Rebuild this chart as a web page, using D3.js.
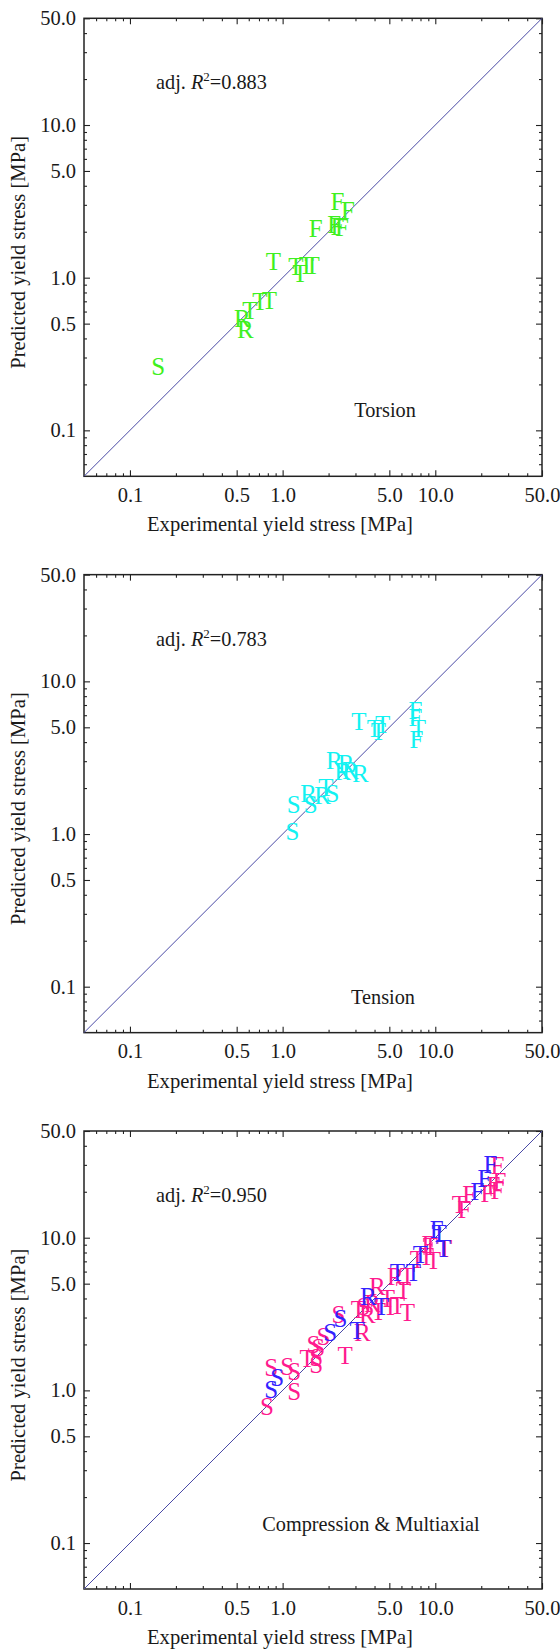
<!DOCTYPE html>
<html><head><meta charset="utf-8">
<script src="https://cdn.jsdelivr.net/npm/d3@7"></script>
<style>
html,body{margin:0;padding:0;background:#fff;}
svg text{font-family:"Liberation Serif","Times New Roman",serif;fill:#1a1a1a;}
</style></head><body>
<svg id="chart" width="560" height="1649"></svg>
<script>
// Axis setup shared by the three log-log panels
const axisDomain = [0.05, 50];
const majorTicks = [0.1, 0.5, 1, 5, 10, 50];
const majorTickLabels = ["0.1", "0.5", "1.0", "5.0", "10.0", "50.0"];
const minorTicks = [0.06, 0.07, 0.08, 0.09, 0.2, 0.3, 0.4, 0.6, 0.7, 0.8, 0.9,
                    2, 3, 4, 6, 7, 8, 9, 20, 30, 40];
const panelTitles = ["Torsion", "Tension", "Compression & Multiaxial"];
const adjR2Values = ["0.883", "0.783", "0.950"];
const xTitle = "Experimental yield stress [MPa]";
const yTitle = "Predicted yield stress [MPa]";

// [specimen letter, experimental yield stress, predicted yield stress] in MPa
const torsionGreen = [
  ["F", 2.29, 3.16], ["F", 2.68, 2.74], ["F", 1.65, 2.11], ["F", 2.18, 2.22],
  ["F", 2.29, 2.18], ["F", 2.45, 2.12],
  ["T", 0.87, 1.28], ["T", 1.22, 1.19], ["T", 1.30, 1.07], ["T", 1.43, 1.21],
  ["T", 1.56, 1.21], ["T", 0.71, 0.70], ["T", 0.82, 0.71], ["T", 0.61, 0.61],
  ["R", 0.545, 0.543], ["R", 0.57, 0.46],
  ["S", 0.153, 0.262]
];
const tensionCyan = [
  ["T", 3.16, 5.44], ["T", 3.99, 4.92], ["T", 4.52, 5.25], ["T", 4.24, 4.72],
  ["F", 7.41, 6.42], ["F", 7.41, 5.81], ["T", 7.75, 4.92], ["F", 7.52, 4.19],
  ["R", 2.18, 3.02], ["R", 2.60, 2.90], ["R", 2.47, 2.56], ["R", 2.78, 2.62],
  ["R", 3.23, 2.50], ["T", 1.92, 2.02], ["S", 2.12, 1.85], ["R", 1.48, 1.85],
  ["R", 1.83, 1.78], ["S", 1.53, 1.57], ["S", 1.18, 1.55], ["S", 1.16, 1.04]
];
const compressionPink = [
  ["F", 25.5, 29.5], ["F", 24.0, 22.1], ["F", 26.3, 23.5], ["F", 25.5, 20.5],
  ["F", 16.7, 19.05], ["F", 22.0, 19.6], ["T", 14.4, 16.6], ["F", 15.5, 15.2],
  ["F", 9.01, 8.96], ["T", 9.29, 8.70], ["T", 11.5, 8.56],
  ["T", 7.63, 7.25], ["T", 8.74, 7.48], ["T", 9.72, 7.14],
  ["R", 5.47, 5.53], ["T", 6.56, 5.53], ["T", 6.18, 4.54], ["R", 4.17, 4.76],
  ["T", 4.85, 3.97], ["T", 5.08, 3.57], ["T", 5.64, 3.62], ["T", 6.56, 3.26],
  ["R", 3.87, 3.68], ["S", 3.38, 3.52], ["T", 3.13, 3.41], ["R", 3.59, 3.12],
  ["T", 4.24, 3.31], ["R", 3.33, 2.41], ["S", 2.32, 3.16],
  ["S", 1.85, 2.24], ["S", 1.59, 2.01], ["S", 1.71, 1.92], ["S", 1.66, 1.65],
  ["T", 1.45, 1.61], ["S", 1.66, 1.47], ["T", 2.57, 1.70],
  ["S", 0.842, 1.42], ["S", 1.07, 1.44], ["S", 1.19, 1.32], ["S", 1.19, 0.99],
  ["S", 0.79, 0.79]
];
const multiaxialBlue = [
  ["F", 23.0, 30.0], ["F", 21.0, 24.4], ["F", 18.9, 20.2], ["F", 10.2, 11.4],
  ["T", 10.6, 10.7], ["T", 11.3, 8.56], ["T", 7.99, 7.82], ["T", 5.64, 5.96],
  ["T", 7.18, 5.96], ["R", 3.64, 4.15], ["T", 4.43, 3.52], ["T", 3.08, 2.45],
  ["S", 2.39, 2.94], ["S", 2.05, 2.41], ["S", 0.922, 1.22], ["S", 0.842, 1.02]
];

const colors = { green: "#3ef020", cyan: "#12f2f2", pink: "#ff1a8e", blue: "#3322ff" };

const panels = [
  { title: panelTitles[0], r2: adjR2Values[0], series: [{ data: torsionGreen, color: colors.green }],
    labelX: 301, labelY: 399 },
  { title: panelTitles[1], r2: adjR2Values[1], series: [{ data: tensionCyan, color: colors.cyan }],
    labelX: 299, labelY: 429 },
  { title: panelTitles[2], r2: adjR2Values[2],
    series: [{ data: compressionPink, color: colors.pink }, { data: multiaxialBlue, color: colors.blue }],
    labelX: 287, labelY: 400 }
];

const svg = d3.select("#chart");
svg.append("rect").attr("width", 560).attr("height", 1649).attr("fill", "#fff");

const W = 458, H = 458, left = 84, firstTop = 18.3, step = 556.35;
const x = d3.scaleLog().domain(axisDomain).range([0, W]);
const y = d3.scaleLog().domain(axisDomain).range([H, 0]);
const fmt = d => majorTickLabels[majorTicks.indexOf(d)];

panels.forEach((p, i) => {
  const g = svg.append("g").attr("transform", `translate(${left},${firstTop + i * step})`);

  // minor and major ticks on all four sides, pointing inward
  const addAxis = (gen, tr, vals, size, labels, pad) => {
    const a = g.append("g").attr("transform", tr)
      .call(gen.tickValues(vals).tickSizeInner(-size).tickSizeOuter(0)
        .tickPadding(pad).tickFormat(labels ? fmt : () => ""));
    a.select(".domain").remove();
    a.selectAll("line").attr("stroke", "#222").attr("stroke-width", 1.1);
    a.selectAll("text").attr("font-size", 20.5).attr("fill", "#1a1a1a")
      .attr("font-family", '"Liberation Serif","Times New Roman",serif');
    return a;
  };
  addAxis(d3.axisBottom(x), `translate(0,${H})`, minorTicks, 3, false, 0);
  addAxis(d3.axisTop(x), `translate(0,0)`, minorTicks, 3, false, 0);
  addAxis(d3.axisLeft(y), `translate(0,0)`, minorTicks, 3, false, 0);
  addAxis(d3.axisRight(y), `translate(${W},0)`, minorTicks, 3, false, 0);
  addAxis(d3.axisBottom(x), `translate(0,${H})`, majorTicks, 6, true, 11);
  addAxis(d3.axisTop(x), `translate(0,0)`, majorTicks, 6, false, 0);
  addAxis(d3.axisLeft(y), `translate(0,0)`, majorTicks, 6, true, 8);
  addAxis(d3.axisRight(y), `translate(${W},0)`, majorTicks, 6, false, 0);

  // plot frame
  g.append("rect").attr("width", W).attr("height", H)
    .attr("fill", "none").attr("stroke", "#222").attr("stroke-width", 1.5);

  // 1:1 reference line
  g.append("line")
    .attr("x1", x(axisDomain[0])).attr("y1", y(axisDomain[0]))
    .attr("x2", x(axisDomain[1])).attr("y2", y(axisDomain[1]))
    .attr("stroke", "#4a4aa6").attr("stroke-width", 1);

  // specimen letters
  p.series.forEach(s => {
    g.append("g").selectAll("text").data(s.data).join("text")
      .attr("x", d => x(d[1])).attr("y", d => y(d[2]))
      .attr("dy", "0.34em").attr("text-anchor", "middle")
      .attr("font-size", 25).style("fill", s.color)
      .text(d => d[0]);
  });

  // adjusted R² annotation
  const r = g.append("text").attr("x", 72).attr("y", 71).attr("font-size", 20.3);
  r.append("tspan").text("adj. ");
  r.append("tspan").attr("font-style", "italic").text("R");
  r.append("tspan").attr("dy", -8).attr("font-size", 13).text("2");
  r.append("tspan").attr("dy", 8).text("=" + p.r2);

  // loading mode
  g.append("text").attr("x", p.labelX).attr("y", p.labelY).attr("text-anchor", "middle")
    .attr("font-size", 20.3).text(p.title);

  // axis titles
  g.append("text").attr("x", 280 - left).attr("y", H + 55).attr("text-anchor", "middle")
    .attr("font-size", 20.6).text(xTitle);
  g.append("text").attr("transform", `translate(${25 - left},${H / 2 + 5}) rotate(-90)`)
    .attr("text-anchor", "middle").attr("font-size", 20.6).text(yTitle);
});
</script>
</body></html>
